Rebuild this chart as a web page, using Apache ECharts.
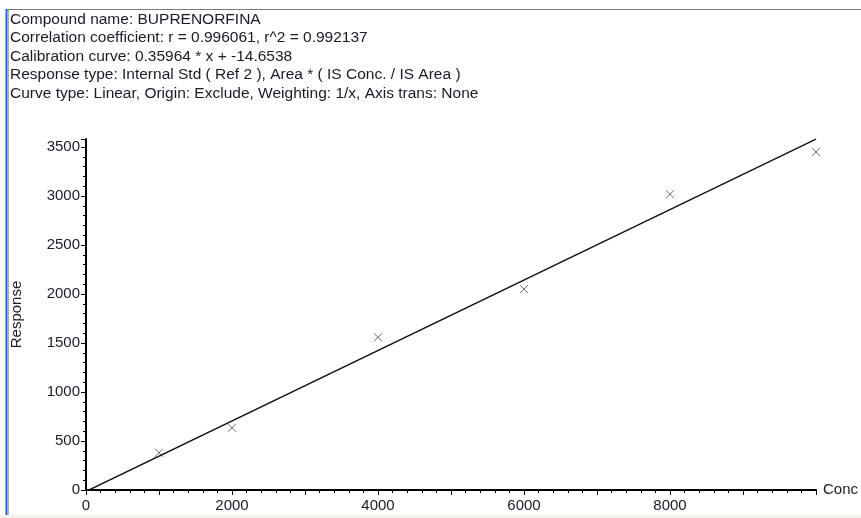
<!DOCTYPE html>
<html lang="en">
<head>
    <meta charset="UTF-8">
    <script src="https://cdn.jsdelivr.net/npm/echarts@6/dist/echarts.min.js"></script>
    <style>
        body { margin: 0; background: #fff; }
    </style>
</head>
<body>
<div id="calib_chart" style="width: 861px;height: 518px"></div>
<script>
    // calibration standards (conc, response)
    var concs = [1000, 2000, 4000, 6000, 8000, 10000];
    var responses = [380, 635, 1558, 2050, 3018, 3450];
    // fitted line endpoints read from the equation shown
    var fitConcs = [0, 10000];
    var fitResponses = [-14.6538, 3581.7];
    var headerLines = [
        'Compound name: BUPRENORFINA',
        'Correlation coefficient: r = 0.996061, r^2 = 0.992137',
        'Calibration curve: 0.35964 * x + -14.6538',
        'Response type: Internal Std ( Ref 2 ), Area * ( IS Conc. / IS Area )',
        'Curve type: Linear, Origin: Exclude, Weighting: 1/x, Axis trans: None'
    ];

    var mychart = echarts.init(document.getElementById('calib_chart'));
    var font = 'Arial, "Liberation Sans", sans-serif';

    var points = concs.map(function (c, i) { return [c, responses[i]]; });
    var fit = fitConcs.map(function (c, i) { return [c, fitResponses[i]]; });

    var option = {
        backgroundColor: '#fff',
        animation: false,
        title: {
            text: headerLines.join('\n'),
            left: 5,
            top: 5,
            textStyle: {
                fontFamily: font,
                fontSize: 15.5,
                fontWeight: 'normal',
                color: '#1a1a2a',
                lineHeight: 18.5
            }
        },
        graphic: [
            {type: 'line', shape: {x1: 7, y1: 9.5, x2: 861, y2: 9.5}, style: {stroke: '#7a7a7a', lineWidth: 1}},
            {type: 'line', shape: {x1: 6.5, y1: 9, x2: 6.5, y2: 515}, style: {stroke: '#1f5fe8', lineWidth: 2}},
            {type: 'line', shape: {x1: 8.5, y1: 10, x2: 8.5, y2: 515}, style: {stroke: '#b0b0b0', lineWidth: 1}},
            {type: 'rect', shape: {x: 0, y: 515, width: 861, height: 3}, style: {fill: '#f3f3ee'}}
        ],
        grid: {
            left: 86,
            right: 45,
            top: 139,
            bottom: 28
        },
        xAxis: {
            type: 'value',
            min: 0,
            max: 10000,
            interval: 1000,
            name: 'Conc',
            nameLocation: 'end',
            nameGap: 7,
            nameTextStyle: {fontFamily: font, fontSize: 15, color: '#1a1a2a', verticalAlign: 'middle'},
            axisLine: {show: true, onZero: false, lineStyle: {color: '#000', width: 2}},
            axisTick: {show: true, length: 5, lineStyle: {color: '#000'}},
            minorTick: {show: true, splitNumber: 5, length: 3, lineStyle: {color: '#000'}},
            splitLine: {show: false},
            axisLabel: {
                fontFamily: font,
                fontSize: 15,
                color: '#1a1a2a',
                margin: 8,
                showMaxLabel: false,
                formatter: function (v) {
                    return v % 2000 === 0 ? String(v) : '';
                }
            }
        },
        yAxis: {
            type: 'value',
            min: 0,
            max: 3582,
            interval: 500,
            name: 'Response',
            nameLocation: 'middle',
            nameGap: 62,
            nameTextStyle: {fontFamily: font, fontSize: 15, color: '#1a1a2a'},
            axisLine: {show: true, onZero: false, lineStyle: {color: '#000', width: 2}},
            axisTick: {show: true, length: 5, lineStyle: {color: '#000'}},
            minorTick: {show: true, splitNumber: 5, length: 3, lineStyle: {color: '#000'}},
            splitLine: {show: false},
            axisLabel: {
                fontFamily: font,
                fontSize: 15,
                color: '#1a1a2a',
                margin: 6,
                showMaxLabel: false,
                formatter: function (v) { return String(v); }
            }
        },
        series: [
            {
                type: 'line',
                data: fit,
                symbol: 'none',
                lineStyle: {color: '#111', width: 1.4},
                clip: true,
                silent: true
            },
            {
                type: 'scatter',
                data: points,
                symbol: 'path://M0,0L10,10M10,0L0,10',
                symbolSize: 8,
                itemStyle: {color: 'none', borderColor: '#444', borderWidth: 1}
            }
        ]
    };

    mychart.setOption(option);
</script>
</body>
</html>
